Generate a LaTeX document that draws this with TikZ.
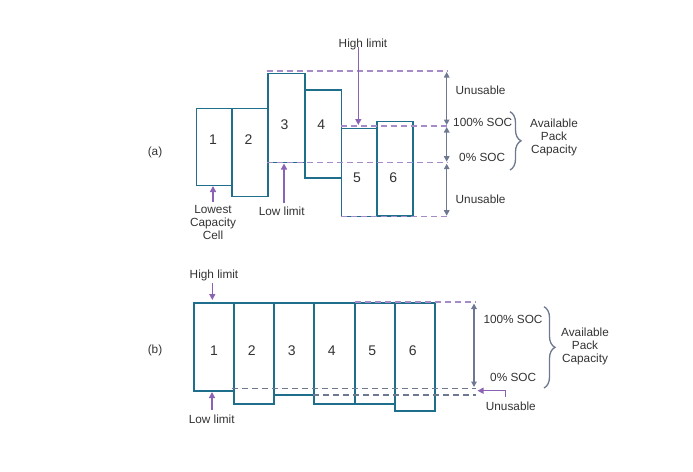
\documentclass[tikz,border=0pt]{standalone}
\usepackage{fontspec}
\setmainfont{Liberation Sans}
\usepackage{tikz}
\usetikzlibrary{arrows.meta, positioning, decorations.pathreplacing}
\definecolor{cellblue}{HTML}{1F6F8C}
\definecolor{limitpurple}{HTML}{8A63B5}
\definecolor{dashpurple}{HTML}{A68BC9}
\definecolor{slate}{HTML}{6E7891}
\definecolor{textgray}{HTML}{333333}
\tikzset{
  cell/.style = {rectangle, draw=cellblue, line width=1.5pt, fill=white,
    inner sep=0pt, anchor=north west},
  num/.style = {font=\fontsize{14}{16}\selectfont, text=textgray, inner sep=0pt},
  lbl/.style = {font=\fontsize{11.8}{13}\selectfont, text=textgray, inner sep=0pt},
  soc/.style = {lbl, anchor=west},
  pdash/.style = {draw=dashpurple, line width=1.2pt, dash pattern=on 6pt off 4pt},
  gdash/.style = {draw=slate, line width=1.2pt, dash pattern=on 6pt off 4pt},
  span/.style = {draw=slate, line width=1.3pt, {Triangle[width=5.5pt,length=5.5pt]}-{Triangle[width=5.5pt,length=5.5pt]}},
  pointer/.style = {draw=limitpurple, line width=1.3pt, -{Triangle[width=6pt,length=6pt]}},
  brace/.style = {draw=slate, line width=1.3pt, decorate, decoration={brace, amplitude=11pt}}
}
\begin{document}
\begin{tikzpicture}[x=1pt, y=-1pt]
      \useasboundingbox (0,0) rectangle (693,471);
      % (a) unbalanced pack
      \node [lbl] (taga) at (155,152) {(a)};
      \node [cell, minimum width=35.3pt, minimum height=77pt] (a1) at (195.7,107.7) {};
      \node [cell, minimum width=36.3pt, minimum height=88pt] (a2) at (231,107.7) {};
      \node [cell, minimum width=37pt, minimum height=89pt] (a3) at (267.3,72.7) {};
      \node [cell, minimum width=36.4pt, minimum height=88pt] (a4) at (304.3,89) {};
      \node [cell, minimum width=35.3pt, minimum height=88pt] (a5) at (340.7,127.7) {};
      \node [cell, minimum width=36.3pt, minimum height=94.3pt] (a6) at (376,120.7) {};
      \node [num] (na1) at (213,140) {1};
      \node [num] (na2) at (248.5,140) {2};
      \node [num] (na3) at (284.5,124.3) {3};
      \node [num] (na4) at (321.3,124.3) {4};
      \node [num] (na5) at (357,177.7) {5};
      \node [num] (na6) at (393.3,177.7) {6};
      % levels
      \coordinate (atopl) at (267,71);   \coordinate (atopr) at (448,71);
      \coordinate (ahil) at (340.7,126); \coordinate (ahir) at (448,126);
      \coordinate (alol) at (267,162.7); \coordinate (alor) at (448,162.7);
      \coordinate (abotl) at (340.7,216.7); \coordinate (abotr) at (448,216.7);
      \path [pdash] (atopl) -- (atopr);
      \path [pdash] (ahil) -- (ahir);
      \path [pdash] (alol) -- (alor);
      \path [pdash] (abotl) -- (abotr);
      \path [span] (446.7,72) -- (446.7,125);
      \path [span] (446.7,127) -- (446.7,161.7);
      \path [span] (446.7,163.7) -- (446.7,215.7);
      \node [soc] (aun1) at (455.5,90) {Unusable};
      \node [soc] (asoc1) at (453,122.7) {100\% SOC};
      \node [soc] (asoc0) at (459,157.7) {0\% SOC};
      \node [soc] (aun2) at (455.5,199) {Unusable};
      \path [brace] (510,111.7) -- (510,170);
      \node [lbl, align=center] (acap) at (554,137.5) {Available\\Pack\\Capacity};
      % limits
      \node [lbl] (ahigh) at (363,44) {High limit};
      \node [lbl] (alow) at (281.7,211) {Low limit};
      \node [lbl, align=center] (aweak) at (213,222) {Lowest\\Capacity\\Cell};
      \coordinate (ahiarr) at (358.3,125);
      \coordinate (aloarr) at (284,163.5);
      \coordinate (aweakarr) at (213,186);
      \path [pointer] (ahigh.south -| ahiarr) ++(0,-3) -- (ahiarr);
      \path [pointer] (284,203) -- (aloarr);
      \path [pointer] (213,202) -- (aweakarr);
      % (b) balanced pack
      \node [lbl] (tagb) at (155,350) {(b)};
      \node [cell, minimum width=40pt, minimum height=88pt] (b1) at (193.3,302) {};
      \node [cell, minimum width=40pt, minimum height=101.3pt] (b2) at (233.3,302) {};
      \node [cell, minimum width=40pt, minimum height=92.3pt] (b3) at (273.3,302) {};
      \node [cell, minimum width=41pt, minimum height=101.3pt] (b4) at (313.3,302) {};
      \node [cell, minimum width=39.7pt, minimum height=101.3pt] (b5) at (354.3,302) {};
      \node [cell, minimum width=40.3pt, minimum height=108pt] (b6) at (394,302) {};
      \node [num] (nb1) at (214,350.7) {1};
      \node [num] (nb2) at (251.7,350.7) {2};
      \node [num] (nb3) at (291.7,350.7) {3};
      \node [num] (nb4) at (331.7,350.7) {4};
      \node [num] (nb5) at (372.3,350.7) {5};
      \node [num] (nb6) at (412.7,350.7) {6};
      % levels
      \coordinate (btopl) at (355,302);   \coordinate (btopr) at (476,302);
      \coordinate (blol) at (231.7,388.3); \coordinate (blor) at (476,388.3);
      \coordinate (bbotl) at (313.3,395);  \coordinate (bbotr) at (476,395);
      \path [pdash] (btopl) -- (btopr);
      \path [gdash] (blol) -- (blor);
      \path [gdash] (bbotl) -- (bbotr);
      \path [span] (474,303.5) -- (474,387);
      \node [soc] (bsoc1) at (483.3,319) {100\% SOC};
      \node [soc] (bsoc0) at (490,377) {0\% SOC};
      \node [soc] (bun) at (485.7,406.7) {Unusable};
      \path [brace] (544,306.7) -- (544,388);
      \node [lbl, align=center] (bcap) at (585,346) {Available\\Pack\\Capacity};
      % limits
      \node [lbl] (bhigh) at (214,275.7) {High limit};
      \node [lbl] (blow) at (211.7,419) {Low limit};
      \coordinate (bhiarr) at (212.3,300);
      \coordinate (bloarr) at (212,392);
      \coordinate (bunarr) at (477.5,390.7);
      \path [pointer] (212.3,283) -- (bhiarr);
      \path [pointer] (212,410) -- (bloarr);
      \path [pointer] (505.7,397) |- (bunarr);
\end{tikzpicture}
\end{document}
